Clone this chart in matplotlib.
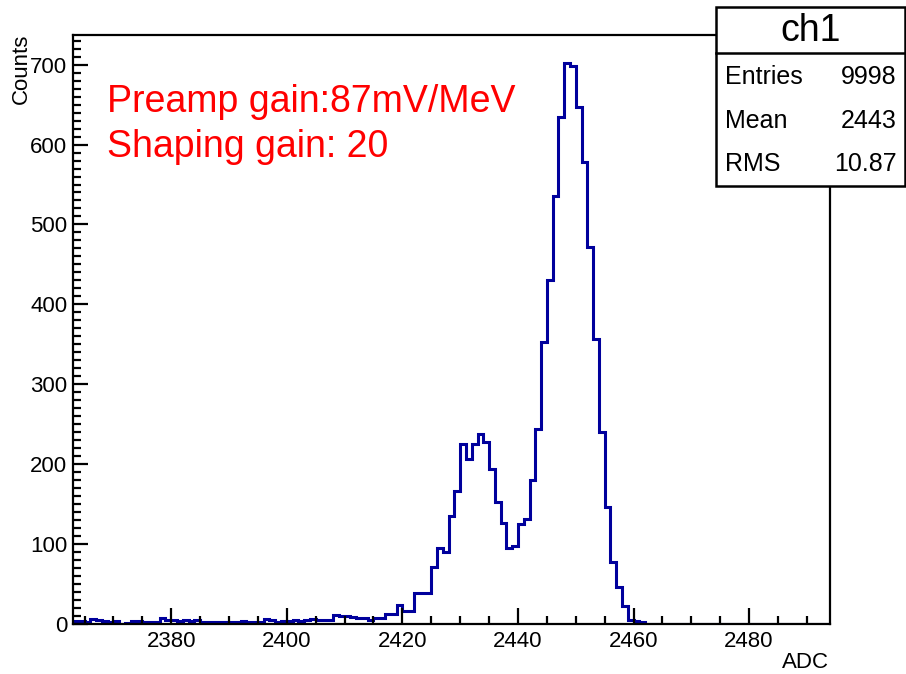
import matplotlib.pyplot as plt
import matplotlib.patches as patches
import numpy as np

plt.rcParams['font.family'] = ['Liberation Sans', 'DejaVu Sans']

# histogram binning: 1 ADC per bin
adc_min = 2363
adc_max = 2494

# counts per bin, starting at adc_min
tail = [4, 4, 3, 6, 5, 4, 3, 4, 0, 1,
        4, 4, 3, 2, 3, 8, 5, 5, 4, 5,
        4, 5, 2, 3, 3, 3, 3, 3, 3, 4,
        3, 3, 3, 6, 5, 3, 4, 4, 5, 4,
        5, 6, 5, 5, 5, 11, 10, 10, 9, 8,
        7, 5, 7, 7]
peaks = [12, 12, 24, 16, 16, 39, 39, 39, 71, 95,
         90, 135, 166, 225, 206, 225, 238, 228, 194, 153,
         127, 95, 98, 125, 131, 180, 244, 353, 431, 536,
         634, 702, 698, 647, 578, 472, 357, 240, 146, 77,
         46, 22, 5, 4, 2]

# stats box
hist_name = "ch1"
stat_names = ["Entries", "Mean", "RMS"]
stat_values = ["9998", "2443", "10.87"]

note_lines = ["Preamp gain:87mV/MeV", "Shaping gain: 20"]

edges = np.arange(adc_min, adc_max + 1)
counts = tail + peaks
counts = np.array(counts + [0] * (len(edges) - 1 - len(counts)))

#--------------------------------------------------------------------------------------
fig = plt.figure(figsize=(9.06, 6.74), dpi=100)
ax = fig.add_axes([73/906, 1 - 624/674, (830-73)/906, (624-35)/674])

ax.stairs(counts, edges, color='#00009c', linewidth=2.2, baseline=0)

ax.set_xlim(adc_min, adc_max)
ax.set_ylim(0, counts.max() * 1.05)

ax.set_xticks(np.arange(2380, 2481, 20))
ax.set_xticks(np.arange(2365, 2494, 5), minor=True)
ax.set_yticks(np.arange(0, 701, 100))
ax.set_yticks(np.arange(0, 737, 10), minor=True)

ax.tick_params(which='both', direction='in', top=False, right=False,
               width=1.6, labelsize=16, colors='black')
ax.tick_params(axis='x', which='major', length=11.5, pad=5)
ax.tick_params(axis='x', which='minor', length=5.5)
ax.tick_params(axis='y', which='major', length=11, pad=4)
ax.tick_params(axis='y', which='minor', length=5.5)
for sp in ax.spines.values():
  sp.set_linewidth(1.6)

# asu nosaukumi ROOT stilā
fig.text(829/906, 1 - 662/674, "ADC", ha='right', va='center', fontsize=16)
fig.text(21/906, 1 - 34/674, "Counts", rotation=90, ha='center', va='top', fontsize=16)

# sarkanais teksts
for i, line in enumerate(note_lines):
  fig.text(107/906, 1 - (102 + 45*i)/674, line, color='red', fontsize=27,
           ha='left', va='center')

#--------------------------------------------------------------------------------------
# statistikas lodziņš
bx0, bx1 = 716/906, 905/906
by0, by1, bsep = 1 - 186/674, 1 - 7/674, 1 - 53/674
box = patches.Rectangle((bx0, by0), bx1 - bx0, by1 - by0, transform=fig.transFigure,
                        facecolor='white', edgecolor='black', linewidth=1.8, zorder=5)
fig.patches.append(box)
fig.lines.append(plt.Line2D([bx0, bx1], [bsep, bsep], transform=fig.transFigure,
                            color='black', linewidth=1.8, zorder=6))
fig.text((bx0 + bx1)/2, 1 - 31/674, hist_name, ha='center', va='center',
         fontsize=27, zorder=7)
for i, (n, v) in enumerate(zip(stat_names, stat_values)):
  yy = 1 - (77 + 43.5*i)/674
  fig.text(725/906, yy, n, ha='left', va='center', fontsize=18, zorder=7)
  fig.text(897/906, yy, v, ha='right', va='center', fontsize=18, zorder=7)

fig.savefig("out.png", dpi=100)
